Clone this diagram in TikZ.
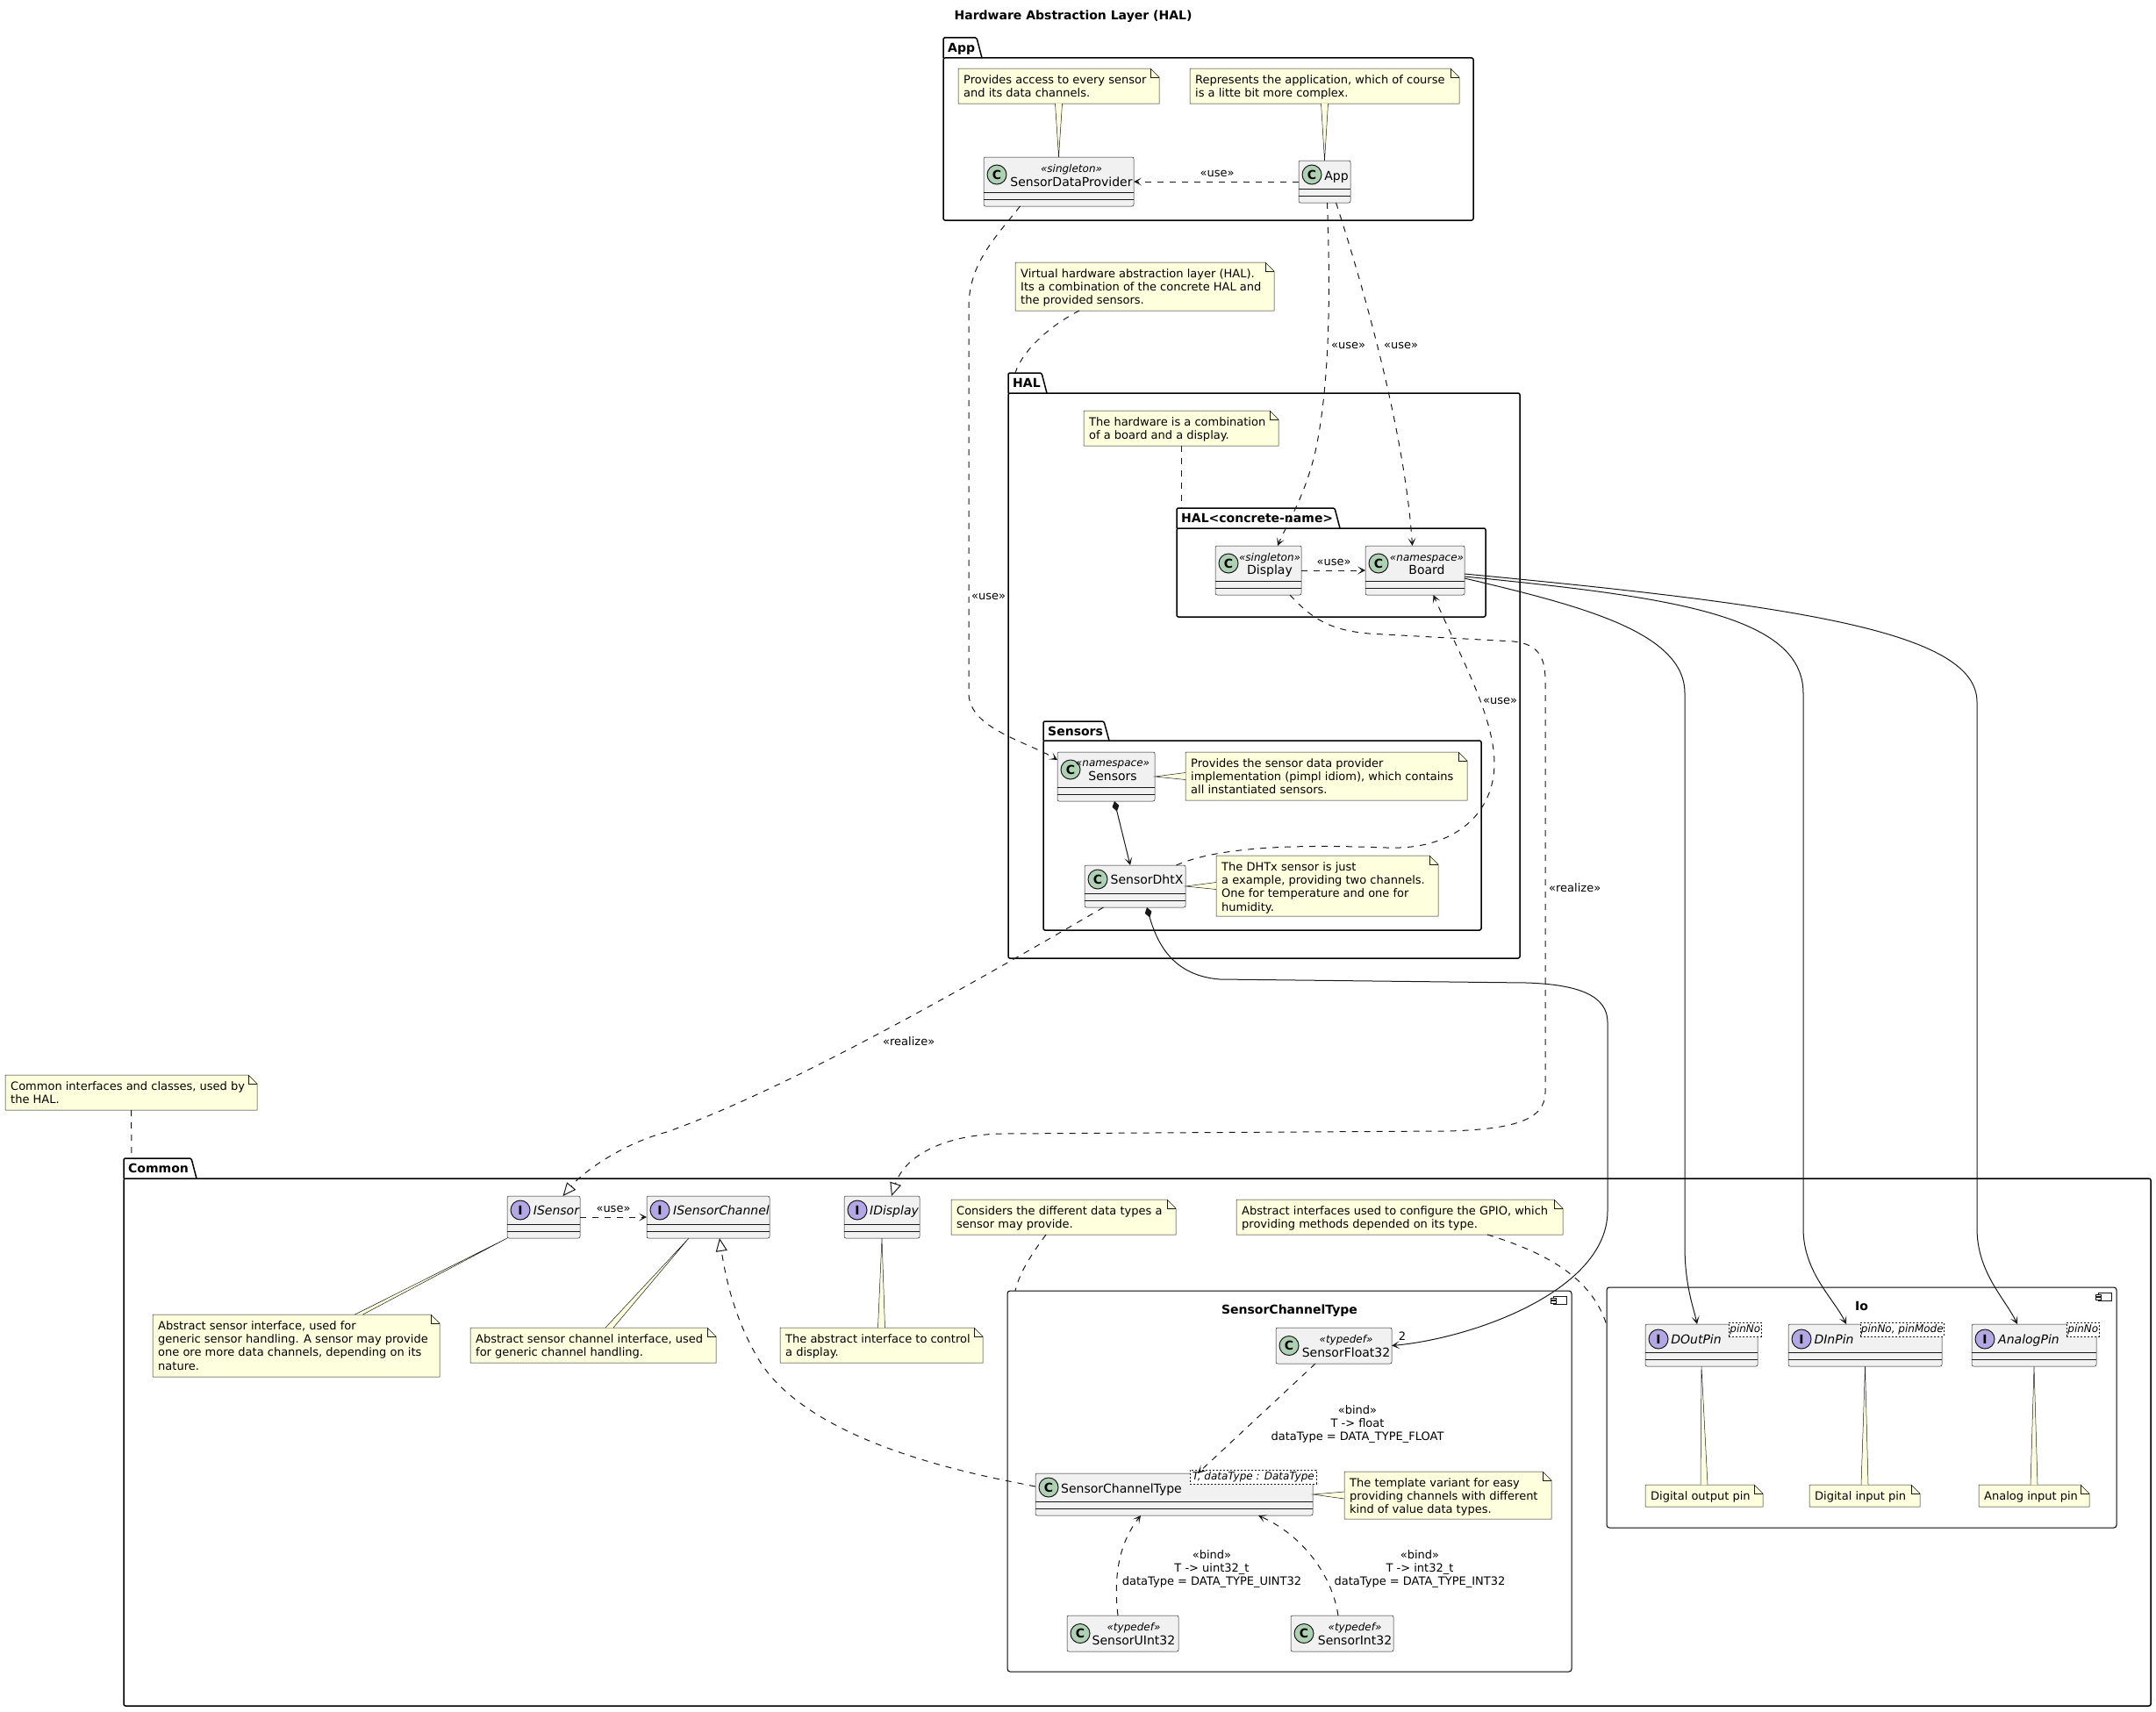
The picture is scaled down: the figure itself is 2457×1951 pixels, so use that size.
\documentclass[tikz,border=0pt]{standalone}
\usepackage{fontspec}
\setmainfont{DejaVu Sans}
\usetikzlibrary{arrows.meta}
\definecolor{lc}{HTML}{181818}
\definecolor{clsfill}{HTML}{F1F1F1}
\definecolor{notefill}{HTML}{FEFFDD}
\definecolor{cgreen}{HTML}{ADD1B2}
\definecolor{ipurple}{HTML}{B4A7E5}
\newcommand\fclass{\fontsize{14}{16}\selectfont}
\newcommand\fster{\fontsize{12}{14}\selectfont\itshape}
\newcommand\fnote{\fontsize{13}{15.2}\selectfont}
\newcommand\fbold{\fontsize{14}{16}\selectfont\bfseries}
\tikzset{
  clsbox/.style={draw=lc, fill=clsfill, line width=0.5pt, rounded corners=2pt, inner sep=0pt, outer sep=0pt},
  sepline/.style={draw=lc, line width=0.5pt},
  cicon/.style={circle, draw=lc, line width=1pt, fill=cgreen, minimum size=22pt, inner sep=0pt, font=\fontsize{14}{14}\selectfont\bfseries},
  iicon/.style={cicon, fill=ipurple},
  cname/.style={font=\fclass, inner sep=0pt, anchor=base},
  iname/.style={font=\fclass\itshape, inner sep=0pt, anchor=base},
  cster/.style={font=\fster, inner sep=0pt, anchor=base},
  tmpl/.style={draw=lc, fill=white, line width=0.6pt, dash pattern=on 2pt off 2pt, font=\fster, inner sep=0pt, anchor=north west, minimum height=16pt},
  notebg/.style={fill=notefill, draw=lc, line width=0.5pt},
  notetxt/.style={font=\fnote, inner sep=0pt, align=left, anchor=north west},
  pkgbody/.style={draw=black, line width=1.5pt, rounded corners=2pt, inner sep=0pt, outer sep=0pt},
  compbody/.style={draw=black, line width=1pt, rounded corners=3pt, inner sep=0pt, outer sep=0pt},
  ptitle/.style={font=\fbold, inner sep=0pt, anchor=base west},
  ctitle/.style={font=\fbold, inner sep=0pt, anchor=base},
  lab/.style={font=\fnote, inner sep=0pt},
  conn/.style={draw=lc, line width=1pt},
  dashedline/.style={conn, dash pattern=on 7pt off 7pt},
  dep/.style={dashedline, -{Stealth[length=9pt,width=9pt,inset=5pt]}},
  assoc/.style={conn, -{Stealth[length=9pt,width=9pt,inset=5pt]}},
  real/.style={dashedline, -{Triangle[open,length=15pt,width=13pt,fill=white]}},
  compo/.style={conn, {Diamond[length=12pt,width=8pt]}-{Stealth[length=9pt,width=9pt,inset=5pt]}},
}
\newcommand\klass[5]{\node[clsbox, minimum width={(#4)-(#2)}, minimum height={(#5)-(#3)}] (#1) at ({((#2)+(#4))/2},{((#3)+(#5))/2}) {};}
\newcommand\seps[1]{\draw[sepline] ([yshift=16pt]#1.south west) -- ([yshift=16pt]#1.south east) ([yshift=8pt]#1.south west) -- ([yshift=8pt]#1.south east);}
\newcommand\pkg[8]{%
  \draw[draw=black, line width=1.5pt, rounded corners=1.5pt] (#2,#5) -- (#2,#3) -- (#4,#3) -- ({#4+6},#5);
  \coordinate (#1-tab) at (#2,#3);
  \node[pkgbody, minimum width={(#6)-(#2)}, minimum height={(#7)-(#5)}] (#1) at ({((#2)+(#6))/2},{((#5)+(#7))/2}) {};
  \node[ptitle] (#1-t) at ({#2+5},{(#3+#5)/2+5}) {#8};}
\newcommand\unote[6]{%
  \filldraw[notebg] (#2,#3) -- ({#4-10},#3) -- (#4,{#3+10}) -- (#4,#5) -- (#2,#5) -- cycle;
  \draw[notebg, fill=none] ({#4-10},#3) -- ({#4-10},{#3+10}) -- (#4,{#3+10});
  \node[inner sep=0pt, outer sep=0pt, minimum width={(#4)-(#2)}, minimum height={(#5)-(#3)}, anchor=north west] (#1) at (#2,#3) {};
  \node[notetxt] (#1-t) at ({#2+6},{#3+7.5}) {#6};}
\newcommand\tail[3]{\fill[notefill] #1 -- #3 -- #2 -- cycle; \draw[lc, line width=0.5pt] #1 -- #3 -- #2;}
\newcommand\comp[6]{%
  \node[compbody, minimum width={(#4)-(#2)}, minimum height={(#5)-(#3)}] (#1) at ({((#2)+(#4))/2},{((#3)+(#5))/2}) {};
  \node[ctitle] (#1-t) at ({((#2)+(#4))/2},{#3+26}) {#6};
  \draw[lc, line width=0.8pt, fill=white] ({#4-21},{#3+6}) rectangle ({#4-6},{#3+15});
  \draw[lc, line width=0.8pt, fill=white] ({#4-24},{#3+8}) rectangle ({#4-18},{#3+10.5});
  \draw[lc, line width=0.8pt, fill=white] ({#4-24},{#3+11.5}) rectangle ({#4-18},{#3+14});}
\begin{document}
\begin{tikzpicture}[x=1pt,y=-1pt]
\useasboundingbox (0,0) rectangle (2457,1951);
\node[font=\fbold, inner sep=0pt, anchor=base] (title) at (1223,23) {Hardware Abstraction Layer (HAL)};
% packages
\pkg{papp}{1075}{43}{1113}{66}{1679}{251}{App}
\pkg{phal}{1149}{425}{1187}{448}{1732}{1092}{HAL}
\pkg{phalc}{1341}{579}{1521}{602}{1693}{703}{HAL<concrete-name>}
\pkg{psens}{1189}{822}{1258}{844}{1688}{1060}{Sensors}
\pkg{pcommon}{141}{1320}{218}{1343}{2451}{1944}{Common}
\comp{csct}{1148}{1471}{1791}{1905}{SensorChannelType}
\comp{cio}{1831}{1467}{2412}{1741}{Io}
% notes
\unote{nsdp}{1092}{78}{1321}{118}{Provides access to every sensor\\and its data channels.}
\unote{napp}{1356}{78}{1663}{118}{Represents the application, which of course\\is a litte bit more complex.}
\unote{nhal}{1157}{299}{1452}{354}{Virtual hardware abstraction layer (HAL).\\Its a combination of the concrete HAL and\\the provided sensors.}
\unote{nhw}{1235}{468}{1457}{508}{The hardware is a combination\\of a board and a display.}
\unote{nsens}{1351}{857}{1672}{912}{Provides the sensor data provider\\implementation (pimpl idiom), which contains\\all instantiated sensors.}
\unote{ndht}{1386}{975}{1639}{1044}{The DHTx sensor is just\\a example, providing two channels.\\One for temperature and one for\\humidity.}
\unote{ncommon}{6}{1225}{293}{1265}{Common interfaces and classes, used by\\the HAL.}
\unote{nisens}{174}{1498}{501}{1569}{Abstract sensor interface, used for\\generic sensor handling. A sensor may provide\\one ore more data channels, depending on its\\nature.}
\unote{nisc}{536}{1513}{816}{1553}{Abstract sensor channel interface, used\\for generic channel handling.}
\unote{nidisp}{889}{1513}{1120}{1553}{The abstract interface to control\\a display.}
\unote{ntypes}{1084}{1367}{1340}{1407}{Considers the different data types a\\sensor may provide.}
\unote{ngpio}{1409}{1367}{1781}{1407}{Abstract interfaces used to configure the GPIO, which\\providing methods depended on its type.}
\unote{nsct}{1532}{1677}{1768}{1731}{The template variant for easy\\providing channels with different\\kind of value data types.}
\unote{ndout}{1875}{1692}{2009}{1717}{Digital output pin}
\unote{ndin}{2062}{1692}{2188}{1717}{Digital input pin}
\unote{nain}{2255}{1692}{2381}{1717}{Analog input pin}
% classes
\klass{sdp}{1121}{179}{1292}{235}\seps{sdp}
\node[cicon] (sdp-i) at (1136,199) {C};
\node[cster] (sdp-s) at (1221,196) {«singleton»};
\node[cname] (sdp-n) at (1221,212) {SensorDataProvider};
\klass{app}{1480}{183}{1539}{231}\seps{app}
\node[cicon] (app-i) at (1495,199) {C};
\node[cname] (app-n) at (1523,205) {App};
\klass{display}{1385}{622}{1483}{678}\seps{display}
\node[cicon] (display-i) at (1400,642) {C};
\node[cster] (display-s) at (1447,639) {«singleton»};
\node[cname] (display-n) at (1447,654) {Display};
\klass{board}{1556}{622}{1669}{678}\seps{board}
\node[cicon] (board-i) at (1571,642) {C};
\node[cster] (board-s) at (1626,639) {«namespace»};
\node[cname] (board-n) at (1626,654) {Board};
\klass{sensors}{1205}{857}{1316}{913}\seps{sensors}
\node[cicon] (sensors-i) at (1220,877) {C};
\node[cster] (sensors-s) at (1268,873) {«namespace»};
\node[cname] (sensors-n) at (1268,889) {Sensors};
\klass{dhtx}{1236}{986}{1351}{1034}\seps{dhtx}
\node[cicon] (dhtx-i) at (1251,1002) {C};
\node[cname] (dhtx-n) at (1307,1007) {SensorDhtX};
\klass{isensor}{578}{1363}{661}{1411}\seps{isensor}
\node[iicon] (isensor-i) at (593,1379) {I};
\node[iname] (isensor-n) at (634,1384) {ISensor};
\klass{isc}{737}{1363}{877}{1411}\seps{isc}
\node[iicon] (isc-i) at (752,1379) {I};
\node[iname] (isc-n) at (822,1384) {ISensorChannel};
\klass{idisplay}{962}{1363}{1048}{1411}\seps{idisplay}
\node[iicon] (idisplay-i) at (977,1379) {I};
\node[iname] (idisplay-n) at (1019,1384) {IDisplay};
\klass{sf32}{1454}{1513}{1586}{1554}
\node[cicon] (sf32-i) at (1469,1533.5) {C};
\node[cster] (sf32-s) at (1534,1530) {«typedef»};
\node[cname] (sf32-n) at (1534,1546) {SensorFloat32};
\klass{sct}{1180}{1679}{1496}{1727}\seps{sct}
\node[cicon] (sct-i) at (1195,1695) {C};
\node[cname] (sct-n) at (1278,1701) {SensorChannelType};
\node[tmpl, minimum width=144pt] (sct-t) at (1356,1675) {T, dataType : DataType};
\klass{suint}{1216}{1841}{1343}{1882}
\node[cicon] (suint-i) at (1231,1861.5) {C};
\node[cster] (suint-s) at (1292,1858) {«typedef»};
\node[cname] (suint-n) at (1292,1874) {SensorUInt32};
\klass{sint}{1471}{1841}{1588}{1882}
\node[cicon] (sint-i) at (1486,1861.5) {C};
\node[cster] (sint-s) at (1544,1858) {«typedef»};
\node[cname] (sint-n) at (1544,1874) {SensorInt32};
\klass{dout}{1875}{1509}{2003}{1557}\seps{dout}
\node[iicon] (dout-i) at (1890,1526) {I};
\node[iname] (dout-n) at (1933,1531) {DOutPin};
\node[tmpl, minimum width=37pt] (dout-t) at (1970,1507) {pinNo};
\klass{din}{2038}{1509}{2213}{1557}\seps{din}
\node[iicon] (din-i) at (2053,1526) {I};
\node[iname] (din-n) at (2090,1531) {DInPin};
\node[tmpl, minimum width=95pt] (din-t) at (2120,1507) {pinNo, pinMode};
\klass{ain}{2247}{1509}{2389}{1557}\seps{ain}
\node[iicon] (ain-i) at (2262,1526) {I};
\node[iname] (ain-n) at (2312,1531) {AnalogPin};
\node[tmpl, minimum width=37pt] (ain-t) at (2355,1507) {pinNo};
% note tails
\tail{([xshift=-4pt]nsdp.south)}{([xshift=4pt]nsdp.south)}{(sdp.north)}
\tail{([xshift=-4pt]napp.south)}{([xshift=4pt]napp.south)}{(app.north)}
\tail{([yshift=4pt]nsens.west)}{([yshift=-4pt]nsens.west)}{(sensors.east)}
\tail{([yshift=4pt]ndht.west)}{([yshift=-4pt]ndht.west)}{(dhtx.east)}
\tail{([xshift=67pt]nisens.north)}{([xshift=76pt]nisens.north)}{(isensor.south west)}
\tail{([xshift=14pt]nisc.north)}{([xshift=23pt]nisc.north)}{([xshift=-22pt]isc.south)}
\tail{([xshift=-4pt]nidisp.north)}{([xshift=4pt]nidisp.north)}{(idisplay.south)}
\tail{([yshift=4pt]nsct.west)}{([yshift=-4pt]nsct.west)}{(sct.east)}
\tail{([xshift=-4pt]ndout.north)}{([xshift=4pt]ndout.north)}{(dout.south)}
\tail{([xshift=-4pt]ndin.north)}{([xshift=4pt]ndin.north)}{(din.south)}
\tail{([xshift=-4pt]nain.north)}{([xshift=4pt]nain.north)}{(ain.south)}
% note links
\draw[dashedline] ([xshift=-74.5pt]nhal.south) .. controls (1195,372) and (1165,400) .. ([xshift=8pt]phal-tab);
\draw[dashedline] (nhw.south) -- ([xshift=5pt]phalc-tab);
\draw[dashedline] (ncommon.south) -- ([xshift=9pt]pcommon-tab);
\draw[dashedline] ([xshift=-20pt]ntypes.south) .. controls (1175,1430) and (1162,1450) .. ([xshift=9pt]csct.north west);
\draw[dashedline] ([xshift=100pt]ngpio.south) .. controls (1770,1430) and (1815,1460) .. ([yshift=-43pt]cio.north west);
% connectors
\draw[dep] (app.west) -- (sdp.east);
\draw[dep] ([xshift=-44pt]sdp.south) .. controls (1135,270) and (1104,300) .. (1104,350) -- (1104,790) .. controls (1104,830) and (1170,845) .. ([yshift=19pt]sensors.west);
\draw[dep] ([xshift=3pt]app.south) .. controls (1516,330) and (1516,430) .. (1500,510) .. controls (1488,565) and (1465,600) .. ([xshift=22pt]display.north);
\draw[dep] ([xshift=13pt]app.south) .. controls (1545,300) and (1600,480) .. ([xshift=-3pt]board.north);
\draw[dep] (display.east) -- (board.west);
\draw[dep] ([xshift=47pt]dhtx.north) .. controls (1395,962) and (1500,963) .. (1580,966) .. controls (1660,969) and (1703,925) .. (1703,870) .. controls (1703,815) and (1660,740) .. ([xshift=21pt]board.south);
\draw[real] ([xshift=36pt]display.south) .. controls (1495,705) and (1515,718) .. (1560,722) -- (1725,731) .. controls (1752,734) and (1761,748) .. (1761,775) -- (1761,1245) .. controls (1761,1278) and (1720,1287) .. (1650,1289) -- (1140,1292) .. controls (1070,1294) and (1030,1320) .. ([xshift=11pt]idisplay.north);
\draw[compo] ([xshift=9.5pt]sensors.south) -- ([xshift=-5.5pt]dhtx.north);
\draw[real] ([xshift=-36pt]dhtx.south) .. controls (1110,1120) and (900,1240) .. (760,1290) .. controls (710,1303) and (665,1335) .. ([xshift=22pt]isensor.north);
\draw[compo] ([xshift=13.5pt]dhtx.south) .. controls (1320,1080) and (1340,1112) .. (1390,1116) -- (1740,1120) .. controls (1800,1122) and (1832,1135) .. (1832,1165) -- (1832,1380) .. controls (1832,1470) and (1680,1525) .. (sf32.east);
\draw[assoc] ([yshift=-9pt]board.east) .. controls (1800,690) and (1920,720) .. (1920,790) -- (1920,1420) .. controls (1920,1465) and (1930,1490) .. ([xshift=-5pt]dout.north);
\draw[assoc] ([yshift=-7pt]board.east) .. controls (1900,680) and (2055,700) .. (2055,790) -- (2055,1400) .. controls (2055,1450) and (2090,1480) .. ([xshift=-21.5pt]din.north);
\draw[assoc] ([yshift=-4pt]board.east) .. controls (2050,690) and (2253,720) .. (2253,800) -- (2253,1400) .. controls (2253,1450) and (2285,1480) .. ([xshift=-19pt]ain.north);
\draw[dep] (isensor.east) -- (isc.west);
\draw[real] ([yshift=9pt]sct.west) -- (1150,1688) .. controls (1010,1660) and (905,1615) .. (865,1550) .. controls (835,1500) and (826,1450) .. ([xshift=13pt]isc.south);
\draw[dep] ([xshift=-21pt]sf32.south) -- ([xshift=27pt]sct.north);
\draw[dep] ([xshift=-5.5pt]suint.north) .. controls (1268,1790) and (1278,1755) .. ([xshift=-38pt]sct.south);
\draw[dep] ([xshift=-4.5pt]sint.north) .. controls (1518,1795) and (1485,1750) .. ([xshift=96pt]sct.south);
% labels
\node[lab, anchor=base] (l1) at (1387,201) {«use»};
\node[lab, anchor=base west] (l2) at (1107,683) {«use»};
\node[lab, anchor=base west] (l3) at (1517,397) {«use»};
\node[lab, anchor=base west] (l4) at (1577,397) {«use»};
\node[lab, anchor=base] (l5) at (1520,644) {«use»};
\node[lab, anchor=base west] (l6) at (1690,802) {«use»};
\node[lab, anchor=base west] (l7) at (1765,1016) {«realize»};
\node[lab, anchor=base west] (l8) at (1006,1191) {«realize»};
\node[lab, anchor=base] (l9) at (699,1381) {«use»};
\node[lab, anchor=base] (l10) at (1598,1527) {2};
\node[lab, align=center, anchor=north] (l11) at (1547,1601.5) {«bind»\\T -> float\\dataType = DATA\_TYPE\_FLOAT};
\node[lab, align=center, anchor=north] (l12) at (1381,1766.5) {«bind»\\T -> uint32\_t\\dataType = DATA\_TYPE\_UINT32};
\node[lab, align=center, anchor=north] (l13) at (1618,1766.5) {«bind»\\T -> int32\_t\\dataType = DATA\_TYPE\_INT32};
\end{tikzpicture}
\end{document}
